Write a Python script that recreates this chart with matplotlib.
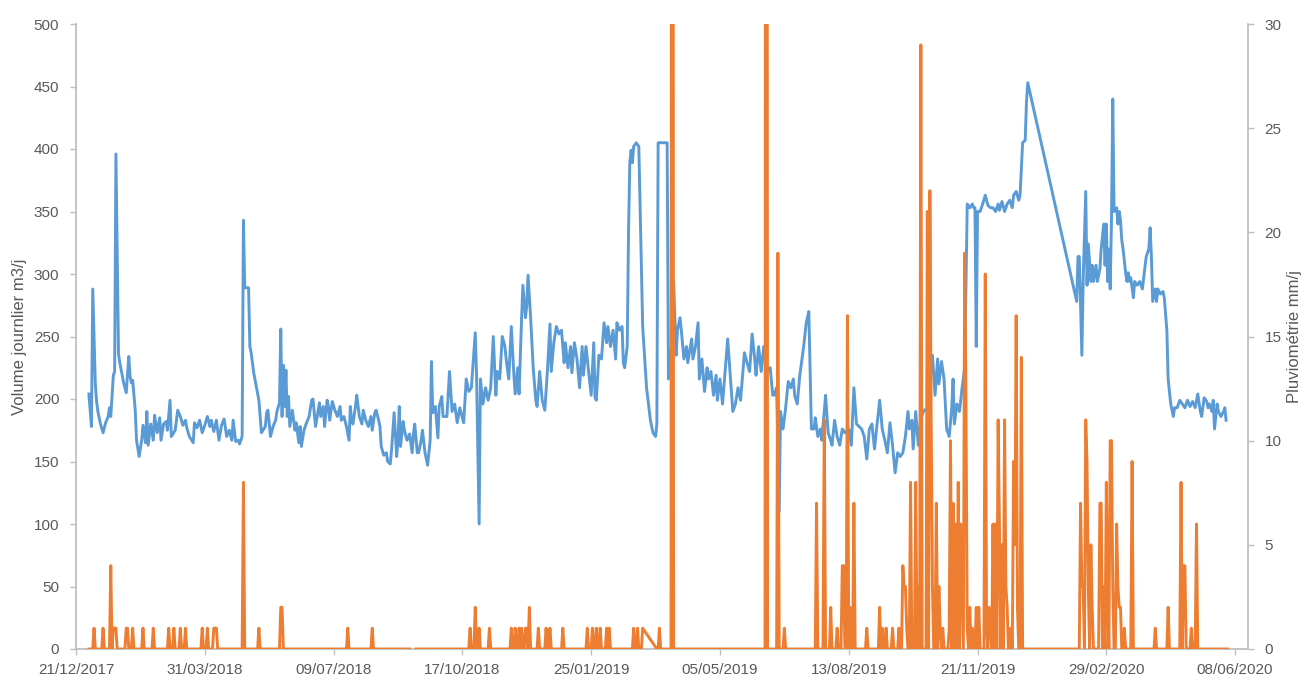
import matplotlib
matplotlib.use('Agg')
import matplotlib.pyplot as plt
import matplotlib.dates as mdates
import numpy as np
import pandas as pd

START = pd.Timestamp('2017-12-21')

# ------------------------------------------- DATA -------------------------------------------------
# days counted from 21/12/2017

vol_day = [10, 12, 13, 15, 16, 17, 19, 21, 23, 25,
           26, 27, 29, 30, 31, 33, 34, 37, 39, 41,
           42, 43, 44, 46, 47, 49, 51, 52, 54, 55,
           56, 58, 60, 61, 63, 65, 66, 68, 70, 71,
           73, 74, 77, 79, 81, 83, 85, 86, 88, 91,
           92, 94, 96, 98, 100, 102, 104, 105, 107, 109,
           111, 113, 115, 117, 119, 121, 122, 124, 126, 127,
           129, 130, 131, 134, 135, 136, 138, 140, 142, 144,
           147, 148, 149, 151, 153, 155, 156, 158, 159, 160,
           161, 162, 163, 164, 165, 166, 168, 170, 171, 173,
           174, 175, 177, 179, 181, 183, 184, 186, 189, 190,
           192, 193, 195, 196, 197, 199, 201, 203, 205, 206,
           208, 210, 212, 213, 214, 215, 217, 218, 220, 222,
           223, 225, 227, 229, 230, 232, 233, 235, 236, 237,
           239, 241, 242, 244, 245, 247, 249, 250, 251, 252,
           254, 255, 257, 259, 261, 262, 263, 265, 266, 268,
           269, 271, 273, 275, 276, 277, 279, 281, 282, 284,
           285, 288, 290, 292, 294, 296, 298, 301, 303, 305,
           307, 310, 311, 313, 314, 316, 318, 320, 322, 324,
           326, 327, 329, 331, 333, 334, 336, 338, 340, 341,
           343, 344, 346, 347, 349, 350, 351, 353, 355, 357,
           358, 360, 362, 364, 366, 368, 369, 371, 373, 375,
           377, 379, 380, 382, 384, 385, 387, 389, 391, 393,
           394, 396, 398, 400, 402, 403, 404, 406, 408, 410,
           412, 413, 415, 417, 419, 420, 422, 424, 425, 426,
           428, 429, 430, 431, 432, 433, 435, 437, 439, 440,
           443, 446, 448, 450, 451, 452, 459, 460, 463, 464,
           466, 467, 469, 470, 472, 474, 475, 478, 479, 481,
           483, 484, 486, 488, 490, 491, 493, 495, 497, 498,
           500, 502, 504, 506, 508, 510, 512, 514, 516, 517,
           519, 521, 523, 525, 527, 528, 530, 532, 534, 536,
           539, 541, 542, 544, 546, 547, 549, 551, 553, 555,
           557, 558, 560, 562, 565, 567, 569, 571, 573, 574,
           576, 578, 579, 581, 582, 584, 586, 587, 589, 591,
           593, 595, 597, 600, 602, 604, 606, 608, 610, 612,
           614, 616, 618, 620, 622, 624, 626, 628, 630, 632,
           634, 636, 638, 640, 642, 644, 646, 647, 649, 650,
           652, 654, 656, 658, 661, 665, 667, 669, 670, 672,
           674, 676, 678, 680, 681, 682, 684, 686, 688, 690,
           692, 694, 696, 697, 698, 699, 700, 702, 704, 706,
           708, 710, 712, 714, 716, 717, 719, 721, 723, 725,
           727, 728, 730, 732, 733, 735, 737, 738, 739, 777,
           778, 779, 781, 782, 784, 785, 786, 788, 789, 790,
           792, 793, 795, 796, 798, 799, 800, 801, 802, 803,
           804, 805, 806, 808, 809, 810, 811, 812, 813, 815,
           816, 817, 818, 819, 821, 822, 824, 826, 828, 829,
           831, 833, 834, 835, 836, 838, 839, 840, 842, 844,
           845, 847, 848, 850, 852, 853, 855, 857, 859, 861,
           863, 865, 867, 869, 871, 873, 874, 876, 878, 879,
           880, 882, 883, 884, 886, 887, 889, 891, 892, 893]

vol_m3 = [204, 178, 288, 212, 198, 190, 180, 173, 181, 186,
          193, 186, 219, 222, 396, 236, 229, 213, 205, 234,
          218, 213, 215, 191, 167, 154, 167, 179, 165, 190,
          163, 180, 167, 187, 173, 185, 167, 180, 182, 175,
          199, 170, 175, 191, 186, 179, 183, 177, 170, 165,
          181, 177, 183, 173, 179, 186, 178, 183, 174, 183,
          167, 179, 184, 170, 175, 167, 183, 166, 167, 164,
          170, 343, 289, 289, 242, 237, 221, 210, 199, 173,
          178, 189, 191, 170, 178, 183, 190, 197, 256, 186,
          227, 194, 223, 186, 202, 178, 191, 175, 181, 165,
          178, 162, 175, 181, 186, 199, 200, 178, 197, 186,
          194, 178, 199, 194, 183, 198, 191, 186, 194, 183,
          186, 178, 167, 194, 183, 180, 194, 203, 186, 180,
          191, 183, 178, 186, 175, 189, 191, 183, 178, 162,
          155, 157, 150, 148, 159, 189, 154, 167, 194, 162,
          182, 175, 167, 172, 157, 172, 180, 157, 157, 167,
          175, 157, 147, 167, 230, 189, 194, 169, 194, 202,
          186, 186, 222, 190, 196, 181, 193, 181, 216, 206,
          209, 253, 219, 100, 216, 196, 209, 199, 209, 250,
          203, 222, 216, 250, 242, 232, 216, 258, 219, 204,
          225, 204, 265, 291, 265, 275, 299, 265, 225, 199,
          194, 222, 199, 191, 222, 260, 222, 245, 258, 252,
          255, 229, 245, 225, 242, 221, 245, 232, 209, 242,
          219, 242, 222, 203, 245, 201, 199, 235, 232, 261,
          245, 258, 242, 255, 232, 261, 255, 258, 229, 225,
          242, 333, 389, 399, 389, 402, 405, 402, 307, 258,
          209, 183, 173, 170, 180, 405, 405, 216, 250, 294,
          235, 255, 265, 255, 232, 242, 229, 248, 232, 242,
          261, 216, 232, 206, 225, 216, 222, 203, 219, 199,
          216, 196, 222, 248, 219, 190, 196, 209, 199, 212,
          237, 229, 222, 252, 232, 219, 242, 222, 242, 222,
          225, 203, 203, 209, 110, 190, 176, 193, 214, 209,
          216, 203, 196, 219, 242, 261, 270, 176, 176, 185,
          170, 176, 167, 190, 203, 173, 167, 163, 183, 170,
          163, 176, 173, 176, 163, 209, 180, 178, 176, 170,
          152, 176, 180, 160, 180, 199, 176, 167, 157, 181,
          163, 141, 157, 154, 157, 170, 190, 176, 183, 160,
          190, 163, 185, 190, 193, 235, 203, 232, 212, 230,
          216, 176, 170, 193, 216, 180, 196, 190, 209, 225,
          356, 353, 356, 353, 353, 242, 350, 350, 356, 363,
          355, 353, 353, 350, 356, 351, 358, 350, 356, 359,
          353, 363, 366, 359, 363, 405, 407, 438, 453, 278,
          314, 314, 235, 294, 366, 291, 324, 294, 307, 294,
          307, 294, 304, 320, 340, 307, 340, 294, 320, 288,
          343, 440, 350, 353, 340, 350, 343, 327, 320, 301,
          294, 301, 294, 297, 281, 294, 291, 294, 288, 297,
          314, 320, 337, 314, 278, 288, 278, 288, 284, 286,
          281, 255, 216, 196, 186, 193, 193, 199, 196, 193,
          199, 194, 198, 193, 204, 190, 186, 201, 198, 193,
          196, 190, 199, 176, 196, 190, 186, 190, 193, 183]

# rainy days only, every other day of the record is 0 mm
rain_day = [14, 21, 27, 29, 30, 31, 39, 40, 44, 52,
            60, 72, 76, 81, 85, 98, 102, 107, 108, 109,
            130, 142, 159, 160, 211, 230, 306, 310, 313, 321,
            338, 341, 344, 346, 349, 350, 352, 359, 365, 368,
            378, 397, 401, 404, 407, 412, 414, 433, 436, 440,
            453, 463, 536, 545, 550, 575, 581, 586, 591, 595,
            596, 599, 601, 604, 614, 624, 626, 629, 634, 639,
            642, 643, 644, 645, 648, 650, 652, 654, 656, 661,
            663, 664, 665, 668, 670, 671, 673, 678, 679, 681,
            683, 685, 687, 688, 690, 691, 692, 694, 696, 699,
            701, 706, 707, 709, 710, 712, 714, 716, 717, 719,
            721, 722, 723, 726, 728, 729, 730, 731, 734, 780,
            781, 782, 784, 785, 786, 788, 789, 795, 796, 798,
            800, 801, 803, 804, 805, 808, 809, 810, 811, 814,
            820, 838, 848, 858, 860, 861, 866, 870]

rain_mm = [1, 1, 4, 1, 1, 1, 1, 1, 1, 1,
           1, 1, 1, 1, 1, 1, 1, 1, 1, 1,
           8, 1, 2, 2, 1, 1, 1, 2, 1, 1,
           1, 1, 1, 1, 1, 1, 2, 1, 1, 1,
           1, 1, 1, 1, 1, 1, 1, 1, 1, 1,
           1, 120, 120, 19, 1, 7, 11, 2, 1, 4,
           4, 16, 2, 7, 1, 2, 1, 1, 1, 1,
           4, 3, 3, 1, 8, 1, 8, 3, 29, 21,
           22, 11, 3, 7, 3, 1, 1, 1, 10, 7,
           6, 8, 6, 3, 19, 12, 1, 2, 1, 2,
           2, 18, 1, 2, 1, 6, 6, 11, 6, 5,
           11, 3, 2, 1, 9, 5, 16, 2, 14, 7,
           3, 3, 11, 9, 3, 5, 2, 7, 7, 3,
           8, 2, 10, 10, 3, 6, 3, 2, 2, 1,
           9, 1, 2, 8, 4, 4, 1, 6]

rain_first = 10
rain_last = 894
rain_gap = [260, 261, 262, 263]                                  # empty cells, line broken
rain_missing = [441, 442, 443, 444, 445, 446, 447, 448, 449, 450]  # not recorded, line joined

xtick_day = [0, 100, 200, 300, 400, 500, 600, 700, 800, 900]

BLUE = '#5B9BD5'
ORANGE = '#ED7D31'
TXT = '#595959'
AXC = '#BFBFBF'

assert len(vol_day) == len(vol_m3)
assert len(rain_day) == len(rain_mm)

# ------------------------------------------ SERIES -------------------------------------------------

def to_date(days):
	return START + pd.to_timedelta(np.asarray(days), unit='D')

rain = pd.Series(0.0, index=np.arange(rain_first, rain_last + 1))
rain.loc[rain_day] = rain_mm
rain.loc[rain_gap] = np.nan
rain = rain.drop(rain_missing)

# ------------------------------------------- PLOT --------------------------------------------------

plt.rcParams['font.family'] = ['Liberation Sans', 'DejaVu Sans']

fig = plt.figure(figsize=(13.11, 6.86), dpi=100)
ax = fig.add_axes([76 / 1311, 37 / 686, 1172 / 1311, 625 / 686])
ax2 = ax.twinx()

ax.plot(to_date(vol_day), vol_m3, color=BLUE, lw=2.1, solid_joinstyle='round')
ax2.plot(to_date(rain.index), rain.values, color=ORANGE, lw=2.1, solid_joinstyle='round')

ax.set_xlim(START, START + pd.Timedelta(days=910))
ax.set_ylim(0, 500)
ax2.set_ylim(0, 30)
ax.set_yticks(np.arange(0, 501, 50))
ax2.set_yticks(np.arange(0, 31, 5))
ax.set_xticks(to_date(xtick_day))
ax.xaxis.set_major_formatter(mdates.DateFormatter('%d/%m/%Y'))

for a in (ax, ax2):
	for s in a.spines.values():
		s.set_visible(False)
ax.spines['left'].set_visible(True)
ax.spines['bottom'].set_visible(True)
ax2.spines['right'].set_visible(True)
for s in (ax.spines['left'], ax.spines['bottom'], ax2.spines['right']):
	s.set_color(AXC)
	s.set_linewidth(1.3)

ax.tick_params(axis='both', colors=AXC, labelcolor=TXT, labelsize=11, length=4, width=1)
ax.tick_params(axis='y', pad=8)
ax.tick_params(axis='x', pad=6)
ax2.tick_params(axis='y', colors=AXC, labelcolor=TXT, labelsize=11, length=4, width=1, pad=8)

ax.set_ylabel('Volume journlier m3/j', color=TXT, fontsize=12)
ax2.set_ylabel('Pluviométrie mm/j', color=TXT, fontsize=12, rotation=90, va='center')
ax.yaxis.set_label_coords(-0.042, 0.5)
ax2.yaxis.set_label_coords(1.04, 0.5)

fig.savefig('out.png', dpi=100, facecolor='white')
